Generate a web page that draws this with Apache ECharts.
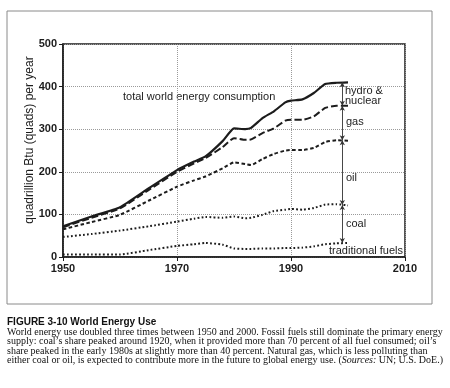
<!DOCTYPE html>
<html>
<head>
<meta charset="utf-8">
<script src="https://cdn.jsdelivr.net/npm/echarts@6/dist/echarts.min.js"></script>
<style>html,body{margin:0;padding:0;background:#fff;}#c{width:450px;height:388px;}</style>
</head>
<body>
<div id="c"></div>
<script>
// ---- data ----
const years       = [1950,1955,1960,1965,1970,1973,1975,1978,1980,1982,1983,1985,1987,1989,1990,1992,1994,1996,1998,2000];
const totalVals   = [72,  95,  117, 161, 204, 224, 236, 272, 302, 300, 303, 326, 342, 363, 367, 370, 385, 406, 409, 410];
const gasTop      = [70,  92,  114, 157, 200, 220, 232, 258, 279, 275, 276, 291, 302, 320, 322, 322, 330, 350, 355, 355];
const oilTop      = [65,  82,  99,  132, 165, 180, 189, 208, 222, 218, 216, 230, 242, 250, 251, 251, 256, 270, 274, 273];
const coalTop     = [47,  54,  62,  72,  83,  90,  94,  92,  95,  91,  92,  99,  108, 111, 113, 111, 115, 123, 124, 121];
const tradTop     = [6,   6,   6,   16,  26,  30,  33,  29,  20,  19,  19,  20,  20,  21,  21,  22,  25,  30,  32,  33];
const arrowYear   = 1999;
const arrowBounds = [410, 355, 274, 122, 33];
const xTickLabels = [1950, 1970, 1990, 2010];
const yTickLabels = [0, 100, 200, 300, 400, 500];
const captionTitle = 'FIGURE 3-10 World Energy Use';
const captionLines = [
  'World energy use doubled three times between 1950 and 2000. Fossil fuels still dominate the primary energy',
  'supply: coal\u2019s share peaked around 1920, when it provided more than 70 percent of all fuel consumed; oil\u2019s',
  'share peaked in the early 1980s at slightly more than 40 percent. Natural gas, which is less polluting than',
  'either coal or oil, is expected to contribute more in the future to global energy use. ({i|Sources:} UN; U.S. DoE.)'
];

// x axis is expressed as years since the first tick so the interval starts on a multiple
const BASE = xTickLabels[0];
const toPts = vals => years.map((y, i) => [y - BASE, vals[i]]);

const ink = '#1c1c1c';
const sans = 'Liberation Sans, Arial, sans-serif';
const serif = 'Liberation Serif, Times New Roman, serif';

function lineSeries(vals, dash, width) {
  return {
    type: 'line', data: toPts(vals), showSymbol: false, smooth: 0.15,
    lineStyle: { color: ink, width: width, type: dash }, z: 3, silent: true
  };
}

const arrowData = [];
for (let i = 0; i < arrowBounds.length - 1; i++) {
  arrowData.push([{ coord: [arrowYear - BASE, arrowBounds[i]] }, { coord: [arrowYear - BASE, arrowBounds[i + 1]] }]);
}

const bodyFont = '10px ' + serif;
const chart = echarts.init(document.getElementById('c'), null, { renderer: 'canvas' });
const option = {
  backgroundColor: '#fff',
  animation: false,
  grid: { left: 63, right: 45, top: 44, bottom: 131, show: true, borderColor: ink, borderWidth: 1.5, backgroundColor: 'transparent' },
  xAxis: {
    type: 'value', min: 0, max: xTickLabels[xTickLabels.length - 1] - BASE, interval: xTickLabels[1] - xTickLabels[0],
    axisLine: { show: true, lineStyle: { color: ink, width: 1.5 } },
    axisTick: { show: true, length: 4, lineStyle: { color: ink } },
    axisLabel: { formatter: v => String(v + BASE), color: ink, fontFamily: sans, fontWeight: 'bold', fontSize: 11, margin: 6 },
    splitLine: { show: true, lineStyle: { color: '#9a9a9a', type: [1, 1], width: 1 } }
  },
  yAxis: {
    type: 'value', min: yTickLabels[0], max: yTickLabels[yTickLabels.length - 1], interval: yTickLabels[1] - yTickLabels[0],
    axisLine: { show: true, lineStyle: { color: ink, width: 1.5 } },
    axisTick: { show: true, length: 4, lineStyle: { color: ink } },
    axisLabel: { color: ink, fontFamily: sans, fontWeight: 'bold', fontSize: 11, margin: 6 },
    splitLine: { show: true, lineStyle: { color: '#9a9a9a', type: [1, 1], width: 1 } }
  },
  series: [
    Object.assign(lineSeries(totalVals, 'solid', 2.2), {
      markLine: {
        silent: true, symbol: ['arrow', 'arrow'], symbolSize: [4, 5], animation: false,
        label: { show: false },
        lineStyle: { color: '#333', width: 0.9, type: 'solid' },
        data: arrowData
      }
    }),
    lineSeries(gasTop, [7, 3], 2),
    lineSeries(oilTop, [3.5, 2.5], 2),
    lineSeries(coalTop, [1.8, 2.2], 2),
    lineSeries(tradTop, [1.8, 2.2], 2)
  ],
  graphic: [
    { type: 'rect', shape: { x: 7, y: 11, width: 425, height: 293 }, style: { fill: 'none', stroke: '#8a8a8a', lineWidth: 1 }, silent: true, z: -1 },
    { type: 'text', x: 30, y: 140, rotation: Math.PI / 2, style: { text: 'quadrillion Btu (quads) per year', font: '12px ' + sans, fill: ink, align: 'center', verticalAlign: 'middle' } },
    { type: 'text', x: 123, y: 97, style: { text: 'total world energy consumption', font: '11px ' + sans, fill: ink, verticalAlign: 'middle' } },
    { type: 'text', x: 345, y: 91, style: { text: 'hydro &', font: '11px ' + sans, fill: ink, verticalAlign: 'middle' } },
    { type: 'text', x: 345, y: 101, style: { text: 'nuclear', font: '11px ' + sans, fill: ink, verticalAlign: 'middle' } },
    { type: 'text', x: 346, y: 122, style: { text: 'gas', font: '11px ' + sans, fill: ink, verticalAlign: 'middle' } },
    { type: 'text', x: 346, y: 178, style: { text: 'oil', font: '11px ' + sans, fill: ink, verticalAlign: 'middle' } },
    { type: 'text', x: 346, y: 224, style: { text: 'coal', font: '11px ' + sans, fill: ink, verticalAlign: 'middle' } },
    { type: 'text', x: 329, y: 251, style: { text: 'traditional fuels', font: '11px ' + sans, fill: ink, verticalAlign: 'middle' } },
    { type: 'text', x: 7, y: 322.5, style: { text: captionTitle, font: 'bold 10px ' + sans, fill: '#111', verticalAlign: 'middle' } },
    { type: 'text', x: 7, y: 332.5, style: { text: captionLines[0], font: bodyFont, fill: '#111', verticalAlign: 'middle' } },
    { type: 'text', x: 7, y: 341.8, style: { text: captionLines[1], font: bodyFont, fill: '#111', verticalAlign: 'middle' } },
    { type: 'text', x: 7, y: 351.1, style: { text: captionLines[2], font: bodyFont, fill: '#111', verticalAlign: 'middle' } },
    { type: 'text', x: 7, y: 360.4, style: { text: captionLines[3], font: bodyFont, fill: '#111', verticalAlign: 'middle',
        rich: { i: { fontFamily: serif, fontSize: 10, fontStyle: 'italic', fill: '#111' } } } }
  ]
};
chart.setOption(option);
</script>
</body>
</html>
